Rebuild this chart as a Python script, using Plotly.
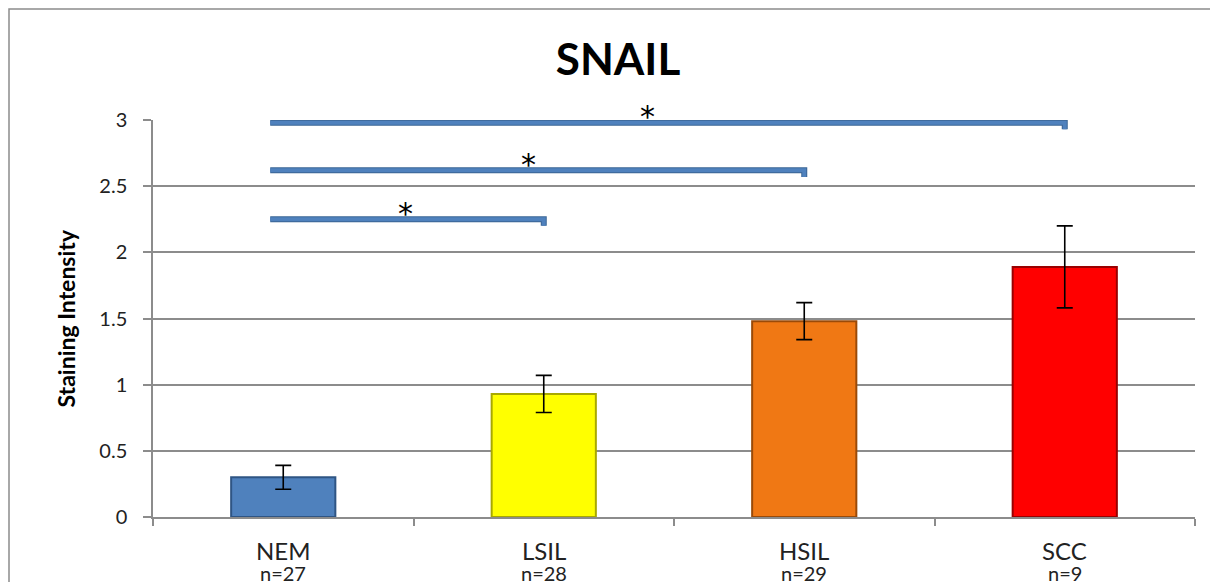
import plotly.graph_objects as go

groups = ["NEM", "LSIL", "HSIL", "SCC"]
n_sizes = ["n=27", "n=28", "n=29", "n=9"]
means = [0.30, 0.93, 1.48, 1.89]
errors = [0.09, 0.14, 0.14, 0.31]
colors = ["#4F81BD", "#FFFF00", "#F07814", "#FF0000"]
edge_colors = ["#2F5584", "#A8A800", "#9A4A08", "#9A0000"]

# significance brackets: from NEM to group index, at height
brk_to = [1, 2, 3]
brk_y = [2.25, 2.62, 2.98]
star_x = [0.47, 0.94, 1.40]

# page has an 8px body margin, so size the figure to fit the window
W, H = 1210, 574
L, R, T, B = 145, 23, 112, 65
pw = W - L - R
ph = H - T - B

fig = go.Figure()
xs = list(range(len(groups)))

fig.add_trace(go.Bar(
    x=xs, y=means, width=0.4,
    marker=dict(color=colors, line=dict(color=edge_colors, width=2)),
    error_y=dict(type="data", array=errors, color="black", thickness=1.6, width=8),
    showlegend=False, hoverinfo="skip",
))

for to, yy, sx in zip(brk_to, brk_y, star_x):
    bx = [-0.05, to, to]
    by = [yy, yy, yy - 0.05]
    fig.add_trace(go.Scatter(x=bx, y=by, mode="lines",
                             line=dict(color="#3A6595", width=6),
                             showlegend=False, hoverinfo="skip"))
    fig.add_trace(go.Scatter(x=bx, y=by, mode="lines",
                             line=dict(color="#4F81BD", width=4),
                             showlegend=False, hoverinfo="skip"))
    fig.add_annotation(x=sx, y=yy, text="*", showarrow=False,
                       yanchor="middle", yshift=6,
                       font=dict(size=30, color="black", family="DejaVu Sans"))

# category labels under the axis
for i, (g, n) in enumerate(zip(groups, n_sizes)):
    fig.add_annotation(x=i, y=0, xref="x", yref="paper", text=g, showarrow=False,
                       yanchor="middle", yshift=-33,
                       font=dict(size=24, color="#222222", family="Lato"))
    fig.add_annotation(x=i, y=0, xref="x", yref="paper", text=n, showarrow=False,
                       yanchor="middle", yshift=-56,
                       font=dict(size=20, color="#222222", family="Lato"))

fig.add_annotation(x=(57 - L) / pw, y=0.5, xref="paper", yref="paper",
                   text="<b>Staining Intensity</b>", textangle=-90, showarrow=False,
                   xanchor="center", yanchor="middle",
                   font=dict(size=23, color="black", family="Lato"))

fig.add_shape(type="rect", xref="paper", yref="paper",
              x0=(1 - L) / pw, x1=(1209 - L) / pw,
              y0=-0.3, y1=1 + (T - 1) / ph,
              line=dict(color="#8C8C8C", width=1.5), fillcolor="rgba(0,0,0,0)", layer="below")

fig.update_layout(
    width=W, height=H,
    margin=dict(l=L, r=R, t=T, b=B, autoexpand=False),
    paper_bgcolor="white", plot_bgcolor="white",
    font=dict(family="Lato", color="#222222"),
    title=dict(text="<b>SNAIL</b>", x=610 / W, xanchor="center", y=1 - 52 / H, yanchor="middle",
               font=dict(size=44, color="black", family="Lato")),
)
fig.update_xaxes(
    range=[-0.5, 3.5], tickvals=xs, showticklabels=False, ticks="",
    showline=True, linecolor="#8C8C8C", linewidth=1.5, showgrid=False, zeroline=False,
    minor=dict(tickvals=[-0.5, 0.5, 1.5, 2.5, 3.5], ticks="outside", ticklen=7,
               tickcolor="#8C8C8C", tickwidth=1.5),
)
fig.update_yaxes(
    range=[0, 3], dtick=0.5, tickformat="~g",
    ticks="outside", ticklen=8, tickcolor="#8C8C8C", tickwidth=1.5,
    tickfont=dict(size=20, color="#222222"), ticklabelstandoff=12,
    showline=True, linecolor="#8C8C8C", linewidth=1.5,
    showgrid=True, gridcolor="#8C8C8C", gridwidth=1.5, zeroline=False,
)

fig.write_html("out.html")
